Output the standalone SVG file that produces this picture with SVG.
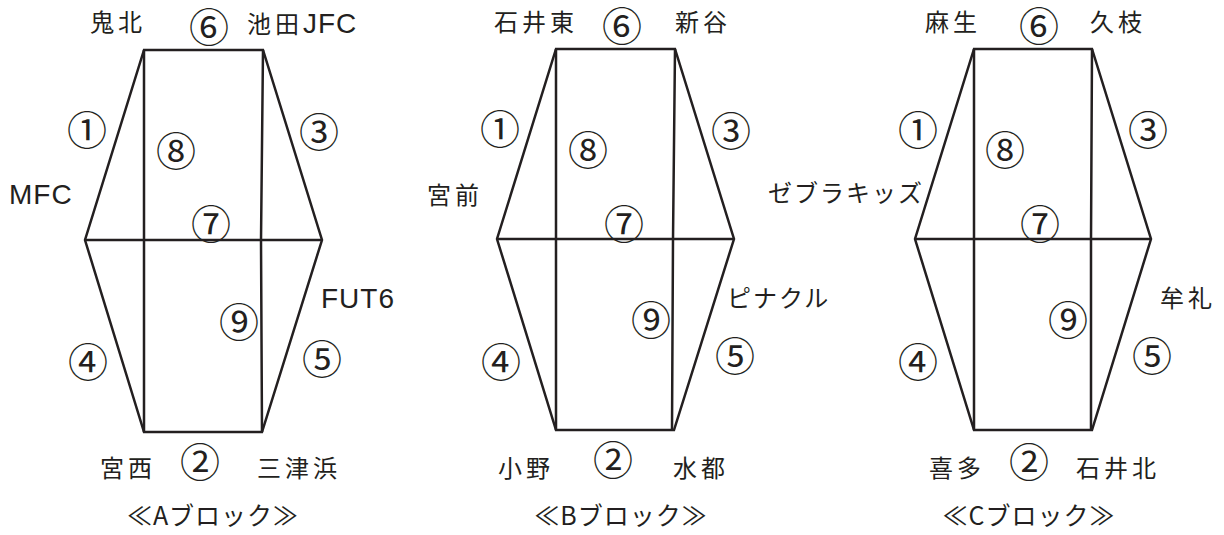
<svg xmlns="http://www.w3.org/2000/svg" width="1224" height="535" viewBox="0 0 1224 535">
<style>
.ln{fill:none;stroke:#231f20;stroke-width:2.5;stroke-linejoin:miter}
text{fill:#231f20;font-family:"Noto Sans CJK JP","Liberation Sans",sans-serif}
.t{font-size:24px;letter-spacing:4px}
.k{font-size:24px;letter-spacing:2px}
.l{font-family:"Liberation Sans","Noto Sans CJK JP",sans-serif;font-size:28px;letter-spacing:1px}
.c{font-size:40px;text-anchor:middle;dominant-baseline:central}
.m{text-anchor:middle}
.b{font-size:25px;letter-spacing:1px;text-anchor:middle}
</style>
<rect width="1224" height="535" fill="#fff"/>
<g id="connectors">
<path class="ln" d="M144,50 L263,50 L322,240 L262,432 L144,432 L85,240 Z"/>
<path class="ln" d="M144,50 V432 M263,50 L261,240 L262,432 M85,240 H322"/>
<path class="ln" d="M556,49 L675,49 L734,239 L674,430 L556,430 L497,239 Z"/>
<path class="ln" d="M556,49 V430 M675,49 L673,239 L672,430 M497,239 H734"/>
<path class="ln" d="M974,49 L1092,49 L1151,239 L1092,430 L974,430 L915,239 Z"/>
<path class="ln" d="M974,49 V430 M1092,49 L1091,239 L1091,430 M915,239 H1151"/>
</g>
<g id="blockA">
<text class="t m" x="118" y="31">鬼北</text>
<text x="247" y="33"><tspan class="t">池田</tspan><tspan class="l">JFC</tspan></text>
<text class="l" x="9" y="204">MFC</text>
<text class="l" x="321" y="308">FUT6</text>
<text class="t m" x="128" y="477">宮西</text>
<text class="t m" x="299" y="477">三津浜</text>
<text class="b" x="213" y="525">≪Aブロック≫</text>
<text class="c" x="209" y="25">⑥</text>
<text class="c" x="87" y="128">①</text>
<text class="c" x="176" y="149">⑧</text>
<text class="c" x="319" y="130">③</text>
<text class="c" x="211" y="222">⑦</text>
<text class="c" x="239" y="320">⑨</text>
<text class="c" x="88" y="360">④</text>
<text class="c" x="322" y="357">⑤</text>
<text class="c" x="200" y="460">②</text>
</g>
<g id="blockB">
<text class="t m" x="536" y="31">石井東</text>
<text class="t m" x="703" y="31">新谷</text>
<text class="t m" x="455" y="204">宮前</text>
<text class="k" x="727" y="307">ピナクル</text>
<text class="t m" x="526" y="477">小野</text>
<text class="t m" x="701" y="477">水都</text>
<text class="b" x="621" y="525">≪Bブロック≫</text>
<text class="c" x="622" y="24">⑥</text>
<text class="c" x="500" y="127">①</text>
<text class="c" x="588" y="148">⑧</text>
<text class="c" x="731" y="129">③</text>
<text class="c" x="624" y="222">⑦</text>
<text class="c" x="651" y="318">⑨</text>
<text class="c" x="501" y="360">④</text>
<text class="c" x="735" y="354">⑤</text>
<text class="c" x="613" y="458">②</text>
</g>
<g id="blockC">
<text class="t m" x="953" y="31">麻生</text>
<text class="t m" x="1118" y="31">久枝</text>
<text class="k" x="768" y="202">ゼブラキッズ</text>
<text class="t m" x="1188" y="307">牟礼</text>
<text class="t m" x="957" y="477">喜多</text>
<text class="t m" x="1118" y="477">石井北</text>
<text class="b" x="1029" y="525">≪Cブロック≫</text>
<text class="c" x="1039" y="24">⑥</text>
<text class="c" x="918" y="128">①</text>
<text class="c" x="1005" y="148">⑧</text>
<text class="c" x="1148" y="128">③</text>
<text class="c" x="1040" y="222">⑦</text>
<text class="c" x="1068" y="318">⑨</text>
<text class="c" x="918" y="360">④</text>
<text class="c" x="1152" y="354">⑤</text>
<text class="c" x="1029" y="460">②</text>
</g>
</svg>
